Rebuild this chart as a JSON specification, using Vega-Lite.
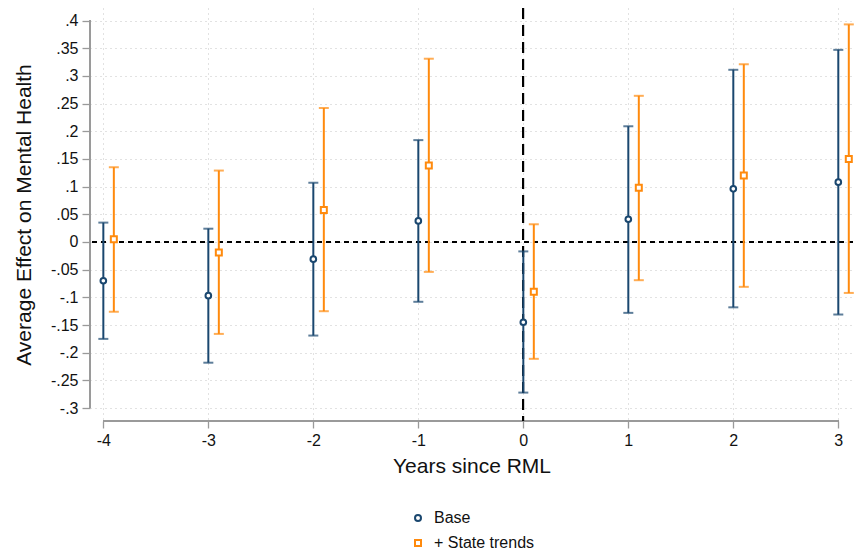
{
  "$schema": "https://vega.github.io/schema/vega-lite/v6.json",
  "width": 763,
  "height": 413,
  "autosize": {"type": "none"},
  "padding": {"left": 90, "top": 8, "right": 2, "bottom": 131},
  "background": "white",
  "config": {
    "view": {"stroke": null},
    "font": "Liberation Sans",
    "axis": {
      "domain": false,
      "grid": true,
      "gridColor": "#c4c4c4",
      "gridDash": [1, 4],
      "gridWidth": 1,
      "tickColor": "#9a9a9a",
      "tickWidth": 1.3,
      "labelColor": "#111111",
      "labelFont": "Liberation Sans",
      "labelFontSize": 16,
      "titleFont": "Liberation Sans",
      "titleFontSize": 21,
      "titleFontWeight": "normal",
      "titleColor": "#111111"
    },
    "legend": {
      "labelFont": "Liberation Sans",
      "labelFontSize": 16,
      "labelColor": "#111111"
    }
  },
  "datasets": {
    "coefs": [
      {"year": -4, "model": "Base", "b": -0.070, "lo": -0.175, "hi": 0.035},
      {"year": -3, "model": "Base", "b": -0.097, "lo": -0.218, "hi": 0.024},
      {"year": -2, "model": "Base", "b": -0.031, "lo": -0.169, "hi": 0.107},
      {"year": -1, "model": "Base", "b": 0.038, "lo": -0.108, "hi": 0.184},
      {"year": 0, "model": "Base", "b": -0.145, "lo": -0.272, "hi": -0.017},
      {"year": 1, "model": "Base", "b": 0.041, "lo": -0.128, "hi": 0.209},
      {"year": 2, "model": "Base", "b": 0.096, "lo": -0.118, "hi": 0.311},
      {"year": 3, "model": "Base", "b": 0.108, "lo": -0.131, "hi": 0.347},
      {"year": -4, "model": "+ State trends", "b": 0.005, "lo": -0.126, "hi": 0.135},
      {"year": -3, "model": "+ State trends", "b": -0.019, "lo": -0.166, "hi": 0.129},
      {"year": -2, "model": "+ State trends", "b": 0.058, "lo": -0.125, "hi": 0.242},
      {"year": -1, "model": "+ State trends", "b": 0.138, "lo": -0.054, "hi": 0.331},
      {"year": 0, "model": "+ State trends", "b": -0.090, "lo": -0.211, "hi": 0.032},
      {"year": 1, "model": "+ State trends", "b": 0.098, "lo": -0.069, "hi": 0.264},
      {"year": 2, "model": "+ State trends", "b": 0.120, "lo": -0.081, "hi": 0.321},
      {"year": 3, "model": "+ State trends", "b": 0.150, "lo": -0.092, "hi": 0.393}
    ]
  },
  "data": {"name": "coefs"},
  "layer": [
    {
      "description": "Axes and dotted grid",
      "mark": {"type": "point", "opacity": 0},
      "encoding": {
        "x": {
          "field": "year", "type": "quantitative", "title": "Years since RML",
          "scale": {"domain": [-4.127, 3.14], "nice": false, "zero": false},
          "axis": {
            "values": [-4, -3, -2, -1, 0, 1, 2, 3],
            "labelExpr": "(datum.value < 0 ? '-' : '') + abs(datum.value)",
            "labelOverlap": false,
            "tickSize": 7,
            "labelPadding": 4,
            "titlePadding": 7
          }
        },
        "y": {
          "field": "b", "type": "quantitative", "title": "Average Effect on Mental Health",
          "scale": {"domain": [-0.3233, 0.4226], "nice": false, "zero": false},
          "axis": {
            "values": [-0.3, -0.25, -0.2, -0.15, -0.1, -0.05, 0, 0.05, 0.1, 0.15, 0.2, 0.25, 0.3, 0.35, 0.4],
            "tickCount": 15,
            "labelExpr": "abs(datum.value) < 1e-9 ? '0' : (datum.value < 0 ? '-' : '') + replace(format(abs(datum.value), '.2~f'), '0.', '.')",
            "labelOverlap": false,
            "tickSize": 8,
            "labelPadding": 4,
            "titlePadding": 16
          }
        }
      }
    },
    {
      "description": "Y axis line over the tick range",
      "mark": {"type": "rule", "color": "#9a9a9a", "strokeWidth": 1.5},
      "encoding": {
        "x": {"datum": -4.127, "type": "quantitative", "title": "Years since RML"},
        "y": {"datum": -0.3, "type": "quantitative", "title": "Average Effect on Mental Health"},
        "y2": {"datum": 0.4}
      }
    },
    {
      "description": "X axis line over the tick range",
      "mark": {"type": "rule", "color": "#9a9a9a", "strokeWidth": 1.5},
      "encoding": {
        "x": {"datum": -4, "type": "quantitative", "title": "Years since RML"},
        "x2": {"datum": 3},
        "y": {"datum": -0.3233, "type": "quantitative", "title": "Average Effect on Mental Health"}
      }
    },
    {
      "description": "Zero-effect reference line",
      "mark": {"type": "rule", "color": "#000000", "strokeWidth": 1.4, "strokeDash": [5, 4]},
      "encoding": {
        "y": {"datum": 0, "type": "quantitative", "title": "Average Effect on Mental Health"}
      }
    },
    {
      "description": "Year of RML reference line",
      "mark": {"type": "rule", "color": "#000000", "strokeWidth": 1.4, "strokeDash": [11, 6]},
      "encoding": {
        "x": {"datum": 0, "type": "quantitative", "title": "Years since RML"}
      }
    },
    {
      "description": "Base model: intervals and caps",
      "transform": [{"filter": "datum.model == 'Base'"}],
      "encoding": {
        "x": {"field": "year", "type": "quantitative", "title": "Years since RML"}
      },
      "layer": [
        {
          "mark": {"type": "rule", "strokeWidth": 2, "color": "#1a476f"},
          "encoding": {
            "y": {"field": "lo", "type": "quantitative", "title": "Average Effect on Mental Health"},
            "y2": {"field": "hi"}
          }
        },
        {
          "mark": {"type": "tick", "orient": "horizontal", "size": 10, "thickness": 2, "color": "#1a476f"},
          "encoding": {
            "y": {"field": "lo", "type": "quantitative", "title": "Average Effect on Mental Health"}
          }
        },
        {
          "mark": {"type": "tick", "orient": "horizontal", "size": 10, "thickness": 2, "color": "#1a476f"},
          "encoding": {
            "y": {"field": "hi", "type": "quantitative", "title": "Average Effect on Mental Health"}
          }
        }
      ]
    },
    {
      "description": "State-trends model: intervals and caps, shifted right",
      "transform": [{"filter": "datum.model == '+ State trends'"}],
      "encoding": {
        "x": {"field": "year", "type": "quantitative", "title": "Years since RML"}
      },
      "layer": [
        {
          "mark": {"type": "rule", "strokeWidth": 2, "xOffset": 10.5, "color": "#ff8a0d"},
          "encoding": {
            "y": {"field": "lo", "type": "quantitative", "title": "Average Effect on Mental Health"},
            "y2": {"field": "hi"}
          }
        },
        {
          "mark": {"type": "tick", "orient": "horizontal", "size": 10, "thickness": 2, "xOffset": 10.5, "color": "#ff8a0d"},
          "encoding": {
            "y": {"field": "lo", "type": "quantitative", "title": "Average Effect on Mental Health"}
          }
        },
        {
          "mark": {"type": "tick", "orient": "horizontal", "size": 10, "thickness": 2, "xOffset": 10.5, "color": "#ff8a0d"},
          "encoding": {
            "y": {"field": "hi", "type": "quantitative", "title": "Average Effect on Mental Health"}
          }
        }
      ]
    },
    {
      "description": "Point estimates, Base",
      "transform": [{"filter": "datum.model == 'Base'"}],
      "mark": {"type": "point", "filled": false, "fill": "white", "strokeWidth": 2, "size": 32, "opacity": 1},
      "encoding": {
        "x": {"field": "year", "type": "quantitative", "title": "Years since RML"},
        "y": {"field": "b", "type": "quantitative", "title": "Average Effect on Mental Health"},
        "color": {
          "field": "model", "type": "nominal", "title": null,
          "scale": {"domain": ["Base", "+ State trends"], "range": ["#1a476f", "#ff8a0d"]},
          "legend": {
            "orient": "none", "legendX": 320, "legendY": 502, "direction": "vertical",
            "symbolSize": 36, "symbolStrokeWidth": 2, "rowPadding": 9, "labelOffset": 8, "padding": 0
          }
        },
        "shape": {"field": "model", "type": "nominal", "title": null, "scale": {"domain": ["Base", "+ State trends"], "range": ["circle", "square"]}}
      }
    },
    {
      "description": "Point estimates, + State trends",
      "transform": [{"filter": "datum.model == '+ State trends'"}],
      "mark": {"type": "point", "filled": false, "fill": "white", "strokeWidth": 2, "size": 36, "opacity": 1, "xOffset": 10.5},
      "encoding": {
        "x": {"field": "year", "type": "quantitative", "title": "Years since RML"},
        "y": {"field": "b", "type": "quantitative", "title": "Average Effect on Mental Health"},
        "color": {"field": "model", "type": "nominal", "title": null, "scale": {"domain": ["Base", "+ State trends"], "range": ["#1a476f", "#ff8a0d"]}},
        "shape": {"field": "model", "type": "nominal", "title": null, "scale": {"domain": ["Base", "+ State trends"], "range": ["circle", "square"]}}
      }
    }
  ]
}
